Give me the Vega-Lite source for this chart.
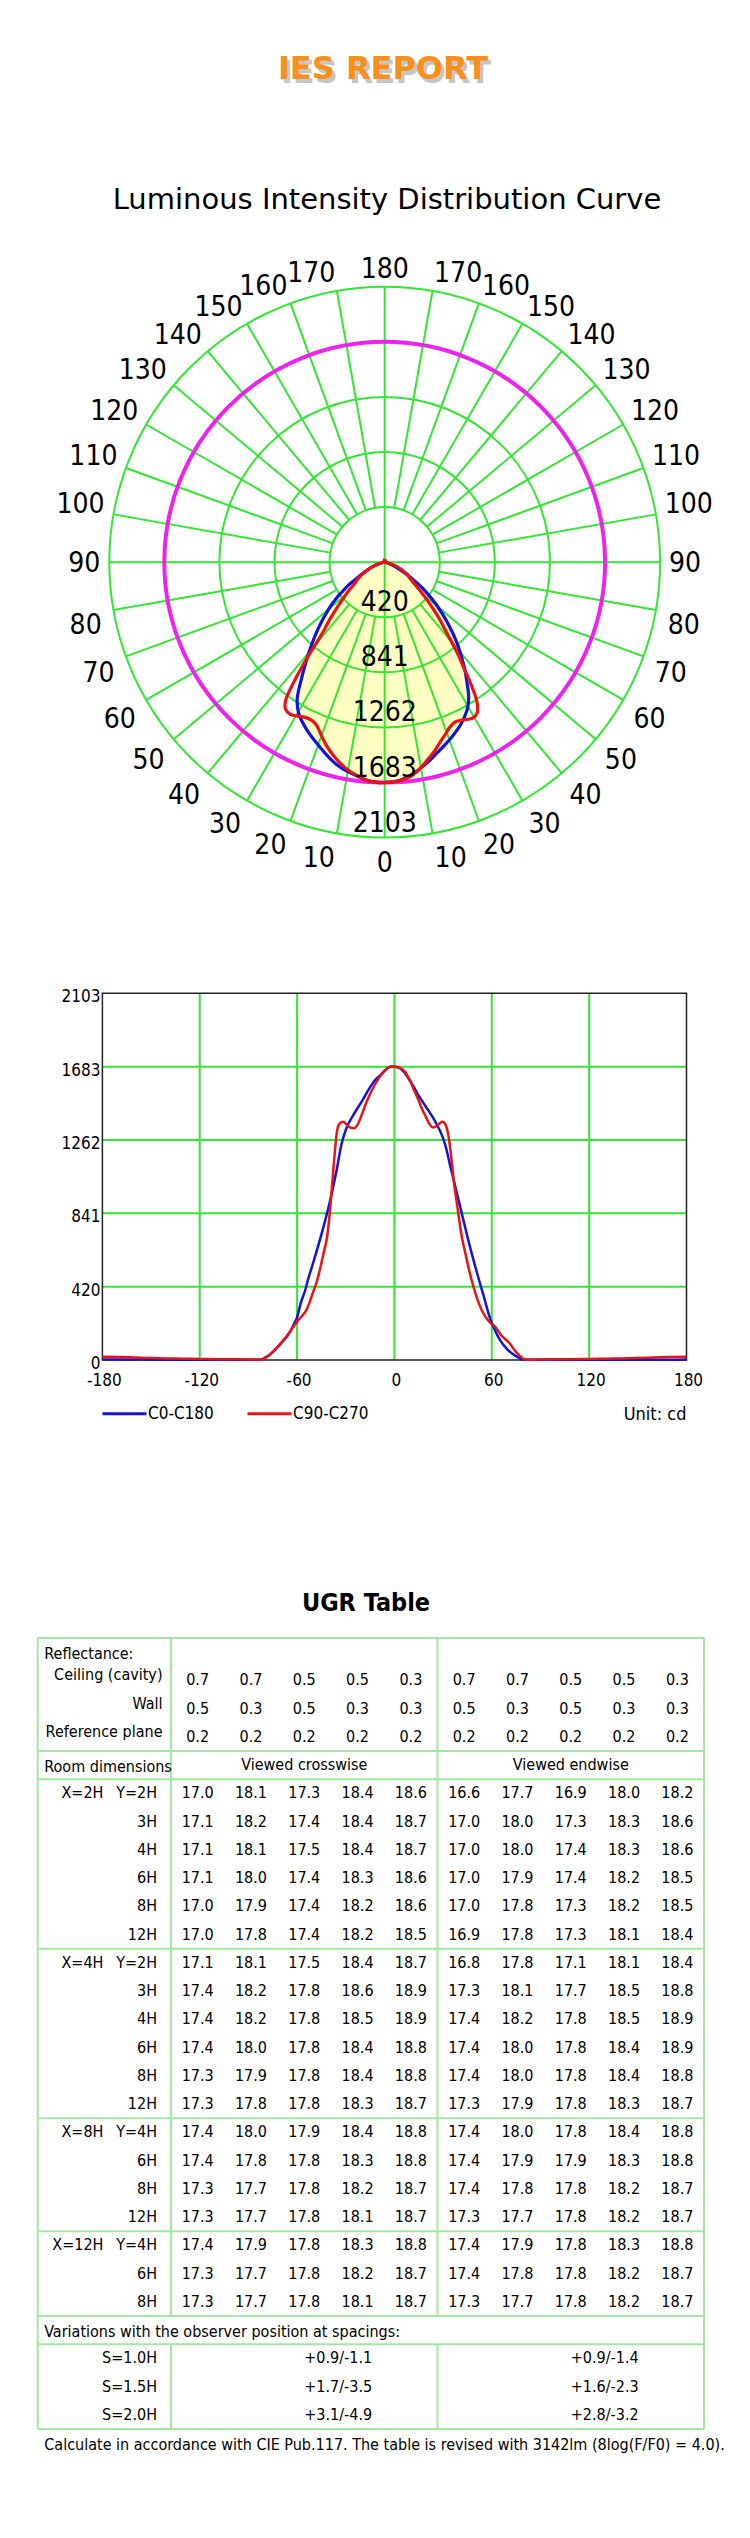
{
"$schema":"https://vega.github.io/schema/vega-lite/v6.json",
"padding":0,
"spacing":0,
"bounds":"flush",
"resolve":{"scale":{"color":"independent"},"legend":{"color":"independent"}},
"config":{"view":{"stroke":null},"font":"DejaVu Sans Condensed, DejaVu Sans","text":{"font":"DejaVu Sans Condensed, DejaVu Sans","color":"#000000"}},
"datasets":{
"curves":[
{"s":"C0-C180","g":-180,"I":3},{"s":"C0-C180","g":-170,"I":3},{"s":"C0-C180","g":-160,"I":3},{"s":"C0-C180","g":-150,"I":2},{"s":"C0-C180","g":-140,"I":2},{"s":"C0-C180","g":-130,"I":2},{"s":"C0-C180","g":-120,"I":2},{"s":"C0-C180","g":-110,"I":2},{"s":"C0-C180","g":-100,"I":2},{"s":"C0-C180","g":-90,"I":2},{"s":"C0-C180","g":-85,"I":2},{"s":"C0-C180","g":-82,"I":4},{"s":"C0-C180","g":-80,"I":12},{"s":"C0-C180","g":-75,"I":45},{"s":"C0-C180","g":-70,"I":95},{"s":"C0-C180","g":-65,"I":152},{"s":"C0-C180","g":-62,"I":205},{"s":"C0-C180","g":-60,"I":245},{"s":"C0-C180","g":-57.8,"I":325},{"s":"C0-C180","g":-55,"I":400},{"s":"C0-C180","g":-53.3,"I":460},{"s":"C0-C180","g":-50,"I":560},{"s":"C0-C180","g":-45,"I":720},{"s":"C0-C180","g":-40,"I":900},{"s":"C0-C180","g":-35.6,"I":1090},{"s":"C0-C180","g":-32.6,"I":1240},{"s":"C0-C180","g":-29.6,"I":1329},{"s":"C0-C180","g":-25,"I":1410},{"s":"C0-C180","g":-20,"I":1485},{"s":"C0-C180","g":-15,"I":1565},{"s":"C0-C180","g":-11.9,"I":1606},{"s":"C0-C180","g":-8,"I":1640},{"s":"C0-C180","g":-5,"I":1668},{"s":"C0-C180","g":-2,"I":1683},{"s":"C0-C180","g":0,"I":1682},{"s":"C0-C180","g":3,"I":1675},{"s":"C0-C180","g":6,"I":1650},{"s":"C0-C180","g":9,"I":1610},{"s":"C0-C180","g":12,"I":1565},{"s":"C0-C180","g":15,"I":1515},{"s":"C0-C180","g":18,"I":1472},{"s":"C0-C180","g":21,"I":1430},{"s":"C0-C180","g":25,"I":1370},{"s":"C0-C180","g":29.6,"I":1281},{"s":"C0-C180","g":32,"I":1210},{"s":"C0-C180","g":34,"I":1128},{"s":"C0-C180","g":37,"I":1013},{"s":"C0-C180","g":41.5,"I":841},{"s":"C0-C180","g":46,"I":669},{"s":"C0-C180","g":50.4,"I":516},{"s":"C0-C180","g":54.8,"I":373},{"s":"C0-C180","g":59.3,"I":229},{"s":"C0-C180","g":62,"I":170},{"s":"C0-C180","g":65,"I":115},{"s":"C0-C180","g":70,"I":57},{"s":"C0-C180","g":75,"I":22},{"s":"C0-C180","g":78,"I":6},{"s":"C0-C180","g":80,"I":2},{"s":"C0-C180","g":85,"I":1},{"s":"C0-C180","g":90,"I":1},{"s":"C0-C180","g":100,"I":1},{"s":"C0-C180","g":110,"I":1},{"s":"C0-C180","g":120,"I":1},{"s":"C0-C180","g":130,"I":1},{"s":"C0-C180","g":140,"I":1},{"s":"C0-C180","g":150,"I":2},{"s":"C0-C180","g":160,"I":2},{"s":"C0-C180","g":170,"I":2},{"s":"C0-C180","g":180,"I":3},
{"s":"C90-C270","g":-180,"I":19},{"s":"C90-C270","g":-170,"I":17},{"s":"C90-C270","g":-160,"I":14},{"s":"C90-C270","g":-150,"I":11},{"s":"C90-C270","g":-140,"I":9},{"s":"C90-C270","g":-130,"I":7},{"s":"C90-C270","g":-120,"I":6},{"s":"C90-C270","g":-110,"I":5},{"s":"C90-C270","g":-100,"I":4},{"s":"C90-C270","g":-90,"I":3},{"s":"C90-C270","g":-85,"I":3},{"s":"C90-C270","g":-82,"I":3},{"s":"C90-C270","g":-80,"I":10},{"s":"C90-C270","g":-77,"I":29},{"s":"C90-C270","g":-74,"I":55},{"s":"C90-C270","g":-71,"I":86},{"s":"C90-C270","g":-68,"I":118},{"s":"C90-C270","g":-65,"I":153},{"s":"C90-C270","g":-62,"I":195},{"s":"C90-C270","g":-60,"I":220},{"s":"C90-C270","g":-57,"I":252},{"s":"C90-C270","g":-54.8,"I":277},{"s":"C90-C270","g":-52.5,"I":325},{"s":"C90-C270","g":-50.4,"I":382},{"s":"C90-C270","g":-48,"I":445},{"s":"C90-C270","g":-46,"I":516},{"s":"C90-C270","g":-43.5,"I":620},{"s":"C90-C270","g":-41.5,"I":707},{"s":"C90-C270","g":-39.7,"I":860},{"s":"C90-C270","g":-38.5,"I":994},{"s":"C90-C270","g":-37,"I":1166},{"s":"C90-C270","g":-35.6,"I":1300},{"s":"C90-C270","g":-34,"I":1354},{"s":"C90-C270","g":-31.7,"I":1367},{"s":"C90-C270","g":-29.5,"I":1350},{"s":"C90-C270","g":-27.5,"I":1334},{"s":"C90-C270","g":-25.2,"I":1329},{"s":"C90-C270","g":-23,"I":1345},{"s":"C90-C270","g":-20,"I":1410},{"s":"C90-C270","g":-17.8,"I":1465},{"s":"C90-C270","g":-15,"I":1525},{"s":"C90-C270","g":-12,"I":1580},{"s":"C90-C270","g":-9,"I":1625},{"s":"C90-C270","g":-6,"I":1660},{"s":"C90-C270","g":-3,"I":1680},{"s":"C90-C270","g":-1,"I":1683},{"s":"C90-C270","g":1,"I":1682},{"s":"C90-C270","g":3,"I":1676},{"s":"C90-C270","g":6,"I":1658},{"s":"C90-C270","g":8.9,"I":1616},{"s":"C90-C270","g":11.5,"I":1560},{"s":"C90-C270","g":14.8,"I":1491},{"s":"C90-C270","g":17,"I":1440},{"s":"C90-C270","g":19.3,"I":1396},{"s":"C90-C270","g":21.5,"I":1355},{"s":"C90-C270","g":23.7,"I":1333},{"s":"C90-C270","g":26,"I":1342},{"s":"C90-C270","g":28,"I":1358},{"s":"C90-C270","g":29.6,"I":1367},{"s":"C90-C270","g":31.5,"I":1350},{"s":"C90-C270","g":33,"I":1300},{"s":"C90-C270","g":34,"I":1243},{"s":"C90-C270","g":35.5,"I":1120},{"s":"C90-C270","g":37,"I":994},{"s":"C90-C270","g":38.5,"I":899},{"s":"C90-C270","g":41.5,"I":707},{"s":"C90-C270","g":44,"I":600},{"s":"C90-C270","g":46,"I":516},{"s":"C90-C270","g":49,"I":410},{"s":"C90-C270","g":52,"I":325},{"s":"C90-C270","g":56,"I":249},{"s":"C90-C270","g":59,"I":215},{"s":"C90-C270","g":62,"I":191},{"s":"C90-C270","g":66,"I":140},{"s":"C90-C270","g":71,"I":96},{"s":"C90-C270","g":75,"I":45},{"s":"C90-C270","g":78,"I":18},{"s":"C90-C270","g":80,"I":4},{"s":"C90-C270","g":82,"I":2},{"s":"C90-C270","g":85,"I":2},{"s":"C90-C270","g":90,"I":3},{"s":"C90-C270","g":100,"I":4},{"s":"C90-C270","g":110,"I":5},{"s":"C90-C270","g":120,"I":6},{"s":"C90-C270","g":130,"I":7},{"s":"C90-C270","g":140,"I":9},{"s":"C90-C270","g":150,"I":11},{"s":"C90-C270","g":160,"I":14},{"s":"C90-C270","g":170,"I":17},{"s":"C90-C270","g":180,"I":19}
],
"angLabels":[{"g":-170,"t":"170"},{"g":-160,"t":"160"},{"g":-150,"t":"150"},{"g":-140,"t":"140"},{"g":-130,"t":"130"},{"g":-120,"t":"120"},{"g":-110,"t":"110"},{"g":-100,"t":"100"},{"g":-90,"t":"90"},{"g":-80,"t":"80"},{"g":-70,"t":"70"},{"g":-60,"t":"60"},{"g":-50,"t":"50"},{"g":-40,"t":"40"},{"g":-30,"t":"30"},{"g":-20,"t":"20"},{"g":-10,"t":"10"},{"g":0,"t":"0"},{"g":10,"t":"10"},{"g":20,"t":"20"},{"g":30,"t":"30"},{"g":40,"t":"40"},{"g":50,"t":"50"},{"g":60,"t":"60"},{"g":70,"t":"70"},{"g":80,"t":"80"},{"g":90,"t":"90"},{"g":100,"t":"100"},{"g":110,"t":"110"},{"g":120,"t":"120"},{"g":130,"t":"130"},{"g":140,"t":"140"},{"g":150,"t":"150"},{"g":160,"t":"160"},{"g":170,"t":"170"},{"g":180,"t":"180"}],
"ugr":[
{"k":-4,"0":"0.7","1":"0.7","2":"0.5","3":"0.5","4":"0.3","5":"0.7","6":"0.7","7":"0.5","8":"0.5","9":"0.3"},
{"k":-3,"0":"0.5","1":"0.3","2":"0.5","3":"0.3","4":"0.3","5":"0.5","6":"0.3","7":"0.5","8":"0.3","9":"0.3"},
{"k":-2,"0":"0.2","1":"0.2","2":"0.2","3":"0.2","4":"0.2","5":"0.2","6":"0.2","7":"0.2","8":"0.2","9":"0.2"},
{"k":0,"0":"17.0","1":"18.1","2":"17.3","3":"18.4","4":"18.6","5":"16.6","6":"17.7","7":"16.9","8":"18.0","9":"18.2"},
{"k":1,"0":"17.1","1":"18.2","2":"17.4","3":"18.4","4":"18.7","5":"17.0","6":"18.0","7":"17.3","8":"18.3","9":"18.6"},
{"k":2,"0":"17.1","1":"18.1","2":"17.5","3":"18.4","4":"18.7","5":"17.0","6":"18.0","7":"17.4","8":"18.3","9":"18.6"},
{"k":3,"0":"17.1","1":"18.0","2":"17.4","3":"18.3","4":"18.6","5":"17.0","6":"17.9","7":"17.4","8":"18.2","9":"18.5"},
{"k":4,"0":"17.0","1":"17.9","2":"17.4","3":"18.2","4":"18.6","5":"17.0","6":"17.8","7":"17.3","8":"18.2","9":"18.5"},
{"k":5,"0":"17.0","1":"17.8","2":"17.4","3":"18.2","4":"18.5","5":"16.9","6":"17.8","7":"17.3","8":"18.1","9":"18.4"},
{"k":6,"0":"17.1","1":"18.1","2":"17.5","3":"18.4","4":"18.7","5":"16.8","6":"17.8","7":"17.1","8":"18.1","9":"18.4"},
{"k":7,"0":"17.4","1":"18.2","2":"17.8","3":"18.6","4":"18.9","5":"17.3","6":"18.1","7":"17.7","8":"18.5","9":"18.8"},
{"k":8,"0":"17.4","1":"18.2","2":"17.8","3":"18.5","4":"18.9","5":"17.4","6":"18.2","7":"17.8","8":"18.5","9":"18.9"},
{"k":9,"0":"17.4","1":"18.0","2":"17.8","3":"18.4","4":"18.8","5":"17.4","6":"18.0","7":"17.8","8":"18.4","9":"18.9"},
{"k":10,"0":"17.3","1":"17.9","2":"17.8","3":"18.4","4":"18.8","5":"17.4","6":"18.0","7":"17.8","8":"18.4","9":"18.8"},
{"k":11,"0":"17.3","1":"17.8","2":"17.8","3":"18.3","4":"18.7","5":"17.3","6":"17.9","7":"17.8","8":"18.3","9":"18.7"},
{"k":12,"0":"17.4","1":"18.0","2":"17.9","3":"18.4","4":"18.8","5":"17.4","6":"18.0","7":"17.8","8":"18.4","9":"18.8"},
{"k":13,"0":"17.4","1":"17.8","2":"17.8","3":"18.3","4":"18.8","5":"17.4","6":"17.9","7":"17.9","8":"18.3","9":"18.8"},
{"k":14,"0":"17.3","1":"17.7","2":"17.8","3":"18.2","4":"18.7","5":"17.4","6":"17.8","7":"17.8","8":"18.2","9":"18.7"},
{"k":15,"0":"17.3","1":"17.7","2":"17.8","3":"18.1","4":"18.7","5":"17.3","6":"17.7","7":"17.8","8":"18.2","9":"18.7"},
{"k":16,"0":"17.4","1":"17.9","2":"17.8","3":"18.3","4":"18.8","5":"17.4","6":"17.9","7":"17.8","8":"18.3","9":"18.8"},
{"k":17,"0":"17.3","1":"17.7","2":"17.8","3":"18.2","4":"18.7","5":"17.4","6":"17.8","7":"17.8","8":"18.2","9":"18.7"},
{"k":18,"0":"17.3","1":"17.7","2":"17.8","3":"18.1","4":"18.7","5":"17.3","6":"17.7","7":"17.8","8":"18.2","9":"18.7"}
]
},
"vconcat":[
{"width":750,"height":134,"data":{"values":[{"t":"IES REPORT"}]},
 "layer":[
  {"mark":{"type":"text","font":"DejaVu Sans","fontWeight":"bold","fontSize":32,"color":"#8c8c8c","opacity":0.5,"dx":11,"dy":6,"baseline":"middle"},"encoding":{"text":{"field":"t"}}},
  {"mark":{"type":"text","font":"DejaVu Sans","fontWeight":"bold","fontSize":32,"color":"#f7901a","dx":8,"dy":2,"baseline":"middle"},"encoding":{"text":{"field":"t"}}}
 ]},
{"width":750,"height":130,"data":{"values":[{"t":"Luminous Intensity Distribution Curve"}]},
 "mark":{"type":"text","font":"DejaVu Sans","fontSize":29,"dx":12,"dy":1,"baseline":"middle"},"encoding":{"text":{"field":"t"}}},
{"width":750,"height":600,
 "layer":[
  {"data":{"name":"curves"},"transform":[{"filter":"datum.s == 'C0-C180'"},{"calculate":"datum.I * sin(datum.g * PI / 180)","as":"px"},{"calculate":"-datum.I * cos(datum.g * PI / 180)","as":"py"}],
   "mark":{"type":"line","fill":"#ffffc4","stroke":null,"strokeWidth":0,"interpolate":"catmull-rom"},
   "encoding":{"x":{"field":"px","type":"quantitative","scale":{"domain":[-2937.5,2789.4],"range":[0,750]},"axis":null},"y":{"field":"py","type":"quantitative","scale":{"domain":[-2304.5,2277],"range":[600,0]},"axis":null},"order":{"field":"g","type":"quantitative"}}},
  {"data":{"values":[{"r":420.6},{"r":841.2},{"r":1261.8},{"r":1682.4},{"r":2103}]},
   "mark":{"type":"arc","filled":false,"stroke":"#30e830","strokeWidth":2,"theta":6.2832},
   "encoding":{"x":{"datum":0,"type":"quantitative","scale":{"domain":[-2937.5,2789.4],"range":[0,750]},"axis":null},"y":{"datum":0,"type":"quantitative","scale":{"domain":[-2304.5,2277],"range":[600,0]},"axis":null},"radius":{"field":"r","type":"quantitative","stack":null,"scale":{"type":"linear","domain":[0,2103],"range":[0,275.4],"zero":true}}}},
  {"data":{"values":[{"g":-170},{"g":-160},{"g":-150},{"g":-140},{"g":-130},{"g":-120},{"g":-110},{"g":-100},{"g":-80},{"g":-70},{"g":-60},{"g":-50},{"g":-40},{"g":-30},{"g":-20},{"g":-10},{"g":10},{"g":20},{"g":30},{"g":40},{"g":50},{"g":60},{"g":70},{"g":80},{"g":100},{"g":110},{"g":120},{"g":130},{"g":140},{"g":150},{"g":160},{"g":170}]},
   "mark":{"type":"arc","filled":false,"stroke":"#30e830","strokeWidth":2},
   "encoding":{"x":{"datum":0,"type":"quantitative","scale":{"domain":[-2937.5,2789.4],"range":[0,750]},"axis":null},"y":{"datum":0,"type":"quantitative","scale":{"domain":[-2304.5,2277],"range":[600,0]},"axis":null},"theta":{"field":"g","type":"quantitative","scale":{"domain":[180,-180],"range":[0,6.283185]},"stack":null},"theta2":{"field":"g"},"radius":{"datum":2103,"type":"quantitative","stack":null,"scale":{"type":"linear","domain":[0,2103],"range":[0,275.4],"zero":true}},"radius2":{"datum":420.6}}},
  {"data":{"values":[{"g":-90},{"g":0},{"g":90},{"g":180}]},
   "mark":{"type":"arc","filled":false,"stroke":"#30e830","strokeWidth":2},
   "encoding":{"x":{"datum":0,"type":"quantitative","scale":{"domain":[-2937.5,2789.4],"range":[0,750]},"axis":null},"y":{"datum":0,"type":"quantitative","scale":{"domain":[-2304.5,2277],"range":[600,0]},"axis":null},"theta":{"field":"g","type":"quantitative","scale":{"domain":[180,-180],"range":[0,6.283185]},"stack":null},"theta2":{"field":"g"},"radius":{"datum":2103,"type":"quantitative","stack":null,"scale":{"type":"linear","domain":[0,2103],"range":[0,275.4],"zero":true}},"radius2":{"datum":0}}},
  {"data":{"values":[{"r":1683}]},
   "mark":{"type":"arc","filled":false,"stroke":"#ee22ee","strokeWidth":4,"theta":6.2832},
   "encoding":{"x":{"datum":0,"type":"quantitative","scale":{"domain":[-2937.5,2789.4],"range":[0,750]},"axis":null},"y":{"datum":0,"type":"quantitative","scale":{"domain":[-2304.5,2277],"range":[600,0]},"axis":null},"radius":{"field":"r","type":"quantitative","stack":null,"scale":{"type":"linear","domain":[0,2103],"range":[0,275.4],"zero":true}}}},
  {"data":{"name":"curves"},"transform":[{"calculate":"datum.I * sin(datum.g * PI / 180)","as":"px"},{"calculate":"-datum.I * cos(datum.g * PI / 180)","as":"py"}],
   "mark":{"type":"line","strokeWidth":3.2,"interpolate":"catmull-rom"},
   "encoding":{"x":{"field":"px","type":"quantitative","scale":{"domain":[-2937.5,2789.4],"range":[0,750]},"axis":null},"y":{"field":"py","type":"quantitative","scale":{"domain":[-2304.5,2277],"range":[600,0]},"axis":null},"order":{"field":"g","type":"quantitative"},"color":{"field":"s","type":"nominal","scale":{"domain":["C0-C180","C90-C270"],"range":["#1212e0","#ee1111"]},"legend":null}}},
  {"data":{"values":[{"r":420.6,"t":"420"},{"r":841.2,"t":"841"},{"r":1261.8,"t":"1262"},{"r":1682.4,"t":"1683"},{"r":2103,"t":"2103"}]},
   "mark":{"type":"text","fontSize":28,"align":"center","baseline":"alphabetic","radiusOffset":-6},
   "encoding":{"x":{"datum":0,"type":"quantitative","scale":{"domain":[-2937.5,2789.4],"range":[0,750]},"axis":null},"y":{"datum":0,"type":"quantitative","scale":{"domain":[-2304.5,2277],"range":[600,0]},"axis":null},"theta":{"datum":0,"type":"quantitative","scale":{"domain":[180,-180],"range":[0,6.283185]}},"radius":{"field":"r","type":"quantitative","stack":null,"scale":{"type":"linear","domain":[0,2103],"range":[0,275.4],"zero":true}},"text":{"field":"t"}}},
  {"data":{"name":"angLabels"},"transform":[{"filter":"datum.g >= -80 && datum.g <= -10"}],
   "mark":{"type":"text","fontSize":28,"align":"right","baseline":"top","radiusOffset":12},
   "encoding":{"x":{"datum":0,"type":"quantitative","scale":{"domain":[-2937.5,2789.4],"range":[0,750]},"axis":null},"y":{"datum":0,"type":"quantitative","scale":{"domain":[-2304.5,2277],"range":[600,0]},"axis":null},"theta":{"field":"g","type":"quantitative","scale":{"domain":[180,-180],"range":[0,6.283185]},"stack":null},"radius":{"datum":2103,"type":"quantitative","scale":{"type":"linear","domain":[0,2103],"range":[0,275.4],"zero":true}},"text":{"field":"t"}}},
  {"data":{"name":"angLabels"},"transform":[{"filter":"datum.g >= 10 && datum.g <= 80"}],
   "mark":{"type":"text","fontSize":28,"align":"left","baseline":"top","radiusOffset":12},
   "encoding":{"x":{"datum":0,"type":"quantitative","scale":{"domain":[-2937.5,2789.4],"range":[0,750]},"axis":null},"y":{"datum":0,"type":"quantitative","scale":{"domain":[-2304.5,2277],"range":[600,0]},"axis":null},"theta":{"field":"g","type":"quantitative","scale":{"domain":[180,-180],"range":[0,6.283185]},"stack":null},"radius":{"datum":2103,"type":"quantitative","scale":{"type":"linear","domain":[0,2103],"range":[0,275.4],"zero":true}},"text":{"field":"t"}}},
  {"data":{"name":"angLabels"},"transform":[{"filter":"datum.g == -90"}],
   "mark":{"type":"text","fontSize":28,"align":"right","baseline":"middle","radiusOffset":9,"dy":2},
   "encoding":{"x":{"datum":0,"type":"quantitative","scale":{"domain":[-2937.5,2789.4],"range":[0,750]},"axis":null},"y":{"datum":0,"type":"quantitative","scale":{"domain":[-2304.5,2277],"range":[600,0]},"axis":null},"theta":{"field":"g","type":"quantitative","scale":{"domain":[180,-180],"range":[0,6.283185]},"stack":null},"radius":{"datum":2103,"type":"quantitative","scale":{"type":"linear","domain":[0,2103],"range":[0,275.4],"zero":true}},"text":{"field":"t"}}},
  {"data":{"name":"angLabels"},"transform":[{"filter":"datum.g == 90"}],
   "mark":{"type":"text","fontSize":28,"align":"left","baseline":"middle","radiusOffset":9,"dy":2},
   "encoding":{"x":{"datum":0,"type":"quantitative","scale":{"domain":[-2937.5,2789.4],"range":[0,750]},"axis":null},"y":{"datum":0,"type":"quantitative","scale":{"domain":[-2304.5,2277],"range":[600,0]},"axis":null},"theta":{"field":"g","type":"quantitative","scale":{"domain":[180,-180],"range":[0,6.283185]},"stack":null},"radius":{"datum":2103,"type":"quantitative","scale":{"type":"linear","domain":[0,2103],"range":[0,275.4],"zero":true}},"text":{"field":"t"}}},
  {"data":{"name":"angLabels"},"transform":[{"filter":"datum.g >= -170 && datum.g <= -100"}],
   "mark":{"type":"text","fontSize":28,"align":"right","baseline":"alphabetic","radiusOffset":9},
   "encoding":{"x":{"datum":0,"type":"quantitative","scale":{"domain":[-2937.5,2789.4],"range":[0,750]},"axis":null},"y":{"datum":0,"type":"quantitative","scale":{"domain":[-2304.5,2277],"range":[600,0]},"axis":null},"theta":{"field":"g","type":"quantitative","scale":{"domain":[180,-180],"range":[0,6.283185]},"stack":null},"radius":{"datum":2103,"type":"quantitative","scale":{"type":"linear","domain":[0,2103],"range":[0,275.4],"zero":true}},"text":{"field":"t"}}},
  {"data":{"name":"angLabels"},"transform":[{"filter":"datum.g >= 100 && datum.g <= 170"}],
   "mark":{"type":"text","fontSize":28,"align":"left","baseline":"alphabetic","radiusOffset":9},
   "encoding":{"x":{"datum":0,"type":"quantitative","scale":{"domain":[-2937.5,2789.4],"range":[0,750]},"axis":null},"y":{"datum":0,"type":"quantitative","scale":{"domain":[-2304.5,2277],"range":[600,0]},"axis":null},"theta":{"field":"g","type":"quantitative","scale":{"domain":[180,-180],"range":[0,6.283185]},"stack":null},"radius":{"datum":2103,"type":"quantitative","scale":{"type":"linear","domain":[0,2103],"range":[0,275.4],"zero":true}},"text":{"field":"t"}}},
  {"data":{"name":"angLabels"},"transform":[{"filter":"datum.g == 0"}],
   "mark":{"type":"text","fontSize":28,"align":"center","baseline":"top","radiusOffset":12},
   "encoding":{"x":{"datum":0,"type":"quantitative","scale":{"domain":[-2937.5,2789.4],"range":[0,750]},"axis":null},"y":{"datum":0,"type":"quantitative","scale":{"domain":[-2304.5,2277],"range":[600,0]},"axis":null},"theta":{"field":"g","type":"quantitative","scale":{"domain":[180,-180],"range":[0,6.283185]},"stack":null},"radius":{"datum":2103,"type":"quantitative","scale":{"type":"linear","domain":[0,2103],"range":[0,275.4],"zero":true}},"text":{"field":"t"}}},
  {"data":{"name":"angLabels"},"transform":[{"filter":"datum.g == 180"}],
   "mark":{"type":"text","fontSize":28,"align":"center","baseline":"alphabetic","radiusOffset":9},
   "encoding":{"x":{"datum":0,"type":"quantitative","scale":{"domain":[-2937.5,2789.4],"range":[0,750]},"axis":null},"y":{"datum":0,"type":"quantitative","scale":{"domain":[-2304.5,2277],"range":[600,0]},"axis":null},"theta":{"field":"g","type":"quantitative","scale":{"domain":[180,-180],"range":[0,6.283185]},"stack":null},"radius":{"datum":2103,"type":"quantitative","scale":{"type":"linear","domain":[0,2103],"range":[0,275.4],"zero":true}},"text":{"field":"t"}}}
 ]},
{"width":750,"height":696,
 "layer":[
  {"data":{"values":[{"v":-120},{"v":-60},{"v":0},{"v":60},{"v":120}]},
   "mark":{"type":"rule","stroke":"#30e830","strokeWidth":2},
   "encoding":{"x":{"field":"v","type":"quantitative","scale":{"domain":[-180,180],"range":[102.4,686.5]},"axis":null},"y":{"datum":0,"type":"quantitative","scale":{"domain":[0,2103],"range":[496,129.3]},"axis":null},"y2":{"datum":2103}}},
  {"data":{"values":[{"v":420.6},{"v":841.2},{"v":1261.8},{"v":1682.4}]},
   "mark":{"type":"rule","stroke":"#30e830","strokeWidth":2},
   "encoding":{"y":{"field":"v","type":"quantitative","scale":{"domain":[0,2103],"range":[496,129.3]},"axis":null},"x":{"datum":-180,"type":"quantitative","scale":{"domain":[-180,180],"range":[102.4,686.5]},"axis":null},"x2":{"datum":180}}},
  {"data":{"values":[{}]},
   "mark":{"type":"rect","filled":false,"stroke":"#222222","strokeWidth":1.5},
   "encoding":{"x":{"datum":-180,"type":"quantitative","scale":{"domain":[-180,180],"range":[102.4,686.5]},"axis":null},"x2":{"datum":180},"y":{"datum":0,"type":"quantitative","scale":{"domain":[0,2103],"range":[496,129.3]},"axis":null},"y2":{"datum":2103}}},
  {"data":{"name":"curves"},
   "mark":{"type":"line","strokeWidth":2.5,"interpolate":"monotone"},
   "encoding":{"x":{"field":"g","type":"quantitative","scale":{"domain":[-180,180],"range":[102.4,686.5]},"axis":null},"y":{"field":"I","type":"quantitative","scale":{"domain":[0,2103],"range":[496,129.3]},"axis":null},
    "color":{"field":"s","type":"nominal","scale":{"domain":["C0-C180","C90-C270"],"range":["#1212e0","#ee1111"]},
     "legend":{"orient":"none","legendX":101,"legendY":526,"direction":"horizontal","title":null,"symbolType":"stroke","symbolSize":1936,"symbolStrokeWidth":3,"labelFontSize":17,"labelFont":"DejaVu Sans Condensed, DejaVu Sans","labelColor":"#000000","labelOffset":0,"columnPadding":27,"padding":0}}}},
  {"data":{"values":[{"v":0,"t":"0"},{"v":420.6,"t":"420"},{"v":841.2,"t":"841"},{"v":1261.8,"t":"1262"},{"v":1682.4,"t":"1683"},{"v":2103,"t":"2103"}]},
   "mark":{"type":"text","fontSize":17,"align":"right","baseline":"middle","dx":-2,"dy":4},
   "encoding":{"y":{"field":"v","type":"quantitative","scale":{"domain":[0,2103],"range":[496,129.3]},"axis":null},"x":{"datum":-180,"type":"quantitative","scale":{"domain":[-180,180],"range":[102.4,686.5]},"axis":null},"text":{"field":"t"}}},
  {"data":{"values":[{"v":-180,"t":"-180"},{"v":-120,"t":"-120"},{"v":-60,"t":"-60"},{"v":0,"t":"0"},{"v":60,"t":"60"},{"v":120,"t":"120"},{"v":180,"t":"180"}]},
   "mark":{"type":"text","fontSize":17,"align":"center","baseline":"middle","dx":2,"dy":21},
   "encoding":{"x":{"field":"v","type":"quantitative","scale":{"domain":[-180,180],"range":[102.4,686.5]},"axis":null},"y":{"datum":0,"type":"quantitative","scale":{"domain":[0,2103],"range":[496,129.3]},"axis":null},"text":{"field":"t"}}},
  {"data":{"values":[{"t":"Unit: cd"}]},
   "mark":{"type":"text","fontSize":18,"align":"right","baseline":"middle","dy":55},
   "encoding":{"x":{"datum":180,"type":"quantitative","scale":{"domain":[-180,180],"range":[102.4,686.5]},"axis":null},"y":{"datum":0,"type":"quantitative","scale":{"domain":[0,2103],"range":[496,129.3]},"axis":null},"text":{"field":"t"}}}
 ]},
{"width":750,"height":78,"data":{"values":[{"t":"UGR Table"}]},
 "mark":{"type":"text","fontSize":25,"fontWeight":"bold","dx":-9,"dy":4,"baseline":"middle"},"encoding":{"text":{"field":"t"}}},
{"width":750,"height":900,
 "layer":[
  {"data":{"values":[{"k":-5.5},{"k":-1.5},{"k":-0.5},{"k":5.5},{"k":11.5},{"k":15.5},{"k":18.5},{"k":19.5},{"k":22.5}]},
   "mark":{"type":"rule","stroke":"#a2e8a2","strokeWidth":2},
   "encoding":{"y":{"field":"k","type":"quantitative","scale":{"domain":[-5.5,22.5],"range":[0,791]},"axis":null},"x":{"datum":-3,"type":"quantitative","scale":{"domain":[-3,9.5],"range":[37.75,704]},"axis":null},"x2":{"datum":9.5}}},
  {"data":{"values":[{"c":-3,"k1":-5.5,"k2":22.5},{"c":9.5,"k1":-5.5,"k2":22.5},{"c":-0.5,"k1":-5.5,"k2":18.5},{"c":-0.5,"k1":19.5,"k2":22.5},{"c":4.5,"k1":-5.5,"k2":18.5},{"c":4.5,"k1":19.5,"k2":22.5}]},
   "mark":{"type":"rule","stroke":"#a2e8a2","strokeWidth":2},
   "encoding":{"x":{"field":"c","type":"quantitative","scale":{"domain":[-3,9.5],"range":[37.75,704]},"axis":null},"y":{"field":"k1","type":"quantitative","scale":{"domain":[-5.5,22.5],"range":[0,791]},"axis":null},"y2":{"field":"k2"}}},
  {"data":{"name":"ugr"},"transform":[{"fold":["0","1","2","3","4","5","6","7","8","9"],"as":["c","v"]}],
   "mark":{"type":"text","fontSize":16,"align":"center","baseline":"middle"},
   "encoding":{"x":{"field":"c","type":"quantitative","scale":{"domain":[-3,9.5],"range":[37.75,704]},"axis":null},"y":{"field":"k","type":"quantitative","scale":{"domain":[-5.5,22.5],"range":[0,791]},"axis":null},"text":{"field":"v"}}},
  {"data":{"values":[{"k":0,"t":"Y=2H"},{"k":1,"t":"3H"},{"k":2,"t":"4H"},{"k":3,"t":"6H"},{"k":4,"t":"8H"},{"k":5,"t":"12H"},{"k":6,"t":"Y=2H"},{"k":7,"t":"3H"},{"k":8,"t":"4H"},{"k":9,"t":"6H"},{"k":10,"t":"8H"},{"k":11,"t":"12H"},{"k":12,"t":"Y=4H"},{"k":13,"t":"6H"},{"k":14,"t":"8H"},{"k":15,"t":"12H"},{"k":16,"t":"Y=4H"},{"k":17,"t":"6H"},{"k":18,"t":"8H"},{"k":20,"t":"S=1.0H"},{"k":21,"t":"S=1.5H"},{"k":22,"t":"S=2.0H"}]},
   "mark":{"type":"text","fontSize":16,"align":"right","baseline":"middle","dx":-14},
   "encoding":{"x":{"datum":-0.5,"type":"quantitative","scale":{"domain":[-3,9.5],"range":[37.75,704]},"axis":null},"y":{"field":"k","type":"quantitative","scale":{"domain":[-5.5,22.5],"range":[0,791]},"axis":null},"text":{"field":"t"}}},
  {"data":{"values":[{"k":0,"t":"X=2H"},{"k":6,"t":"X=4H"},{"k":12,"t":"X=8H"},{"k":16,"t":"X=12H"}]},
   "mark":{"type":"text","fontSize":16,"align":"right","baseline":"middle","dx":-67.6},
   "encoding":{"x":{"datum":-0.5,"type":"quantitative","scale":{"domain":[-3,9.5],"range":[37.75,704]},"axis":null},"y":{"field":"k","type":"quantitative","scale":{"domain":[-5.5,22.5],"range":[0,791]},"axis":null},"text":{"field":"t"}}},
  {"data":{"values":[{"k":-4,"t":"Ceiling (cavity)"},{"k":-3,"t":"Wall"},{"k":-2,"t":"Reference plane"}]},
   "mark":{"type":"text","fontSize":16,"align":"right","baseline":"middle","dx":-8.5,"dy":-5},
   "encoding":{"x":{"datum":-0.5,"type":"quantitative","scale":{"domain":[-3,9.5],"range":[37.75,704]},"axis":null},"y":{"field":"k","type":"quantitative","scale":{"domain":[-5.5,22.5],"range":[0,791]},"axis":null},"text":{"field":"t"}}},
  {"data":{"values":[{"k":-5,"t":"Reflectance:"},{"k":-1,"t":"Room dimensions"},{"k":19,"t":"Variations with the observer position at spacings:"},{"k":23,"t":"Calculate in accordance with CIE Pub.117. The table is revised with 3142lm (8log(F/F0) = 4.0)."}]},
   "mark":{"type":"text","fontSize":16,"align":"left","baseline":"middle","dx":6.5,"dy":2},
   "encoding":{"x":{"datum":-3,"type":"quantitative","scale":{"domain":[-3,9.5],"range":[37.75,704]},"axis":null},"y":{"field":"k","type":"quantitative","scale":{"domain":[-5.5,22.5],"range":[0,791]},"axis":null},"text":{"field":"t"}}},
  {"data":{"values":[{"c":2,"k":-1,"t":"Viewed crosswise"},{"c":7,"k":-1,"t":"Viewed endwise"}]},
   "mark":{"type":"text","fontSize":16,"align":"center","baseline":"middle"},
   "encoding":{"x":{"field":"c","type":"quantitative","scale":{"domain":[-3,9.5],"range":[37.75,704]},"axis":null},"y":{"field":"k","type":"quantitative","scale":{"domain":[-5.5,22.5],"range":[0,791]},"axis":null},"text":{"field":"t"}}},
  {"data":{"values":[{"c":2,"k":20,"t":"+0.9/-1.1"},{"c":7,"k":20,"t":"+0.9/-1.4"},{"c":2,"k":21,"t":"+1.7/-3.5"},{"c":7,"k":21,"t":"+1.6/-2.3"},{"c":2,"k":22,"t":"+3.1/-4.9"},{"c":7,"k":22,"t":"+2.8/-3.2"}]},
   "mark":{"type":"text","fontSize":16,"align":"left","baseline":"middle"},
   "encoding":{"x":{"field":"c","type":"quantitative","scale":{"domain":[-3,9.5],"range":[37.75,704]},"axis":null},"y":{"field":"k","type":"quantitative","scale":{"domain":[-5.5,22.5],"range":[0,791]},"axis":null},"text":{"field":"t"}}}
 ]}
]
}
